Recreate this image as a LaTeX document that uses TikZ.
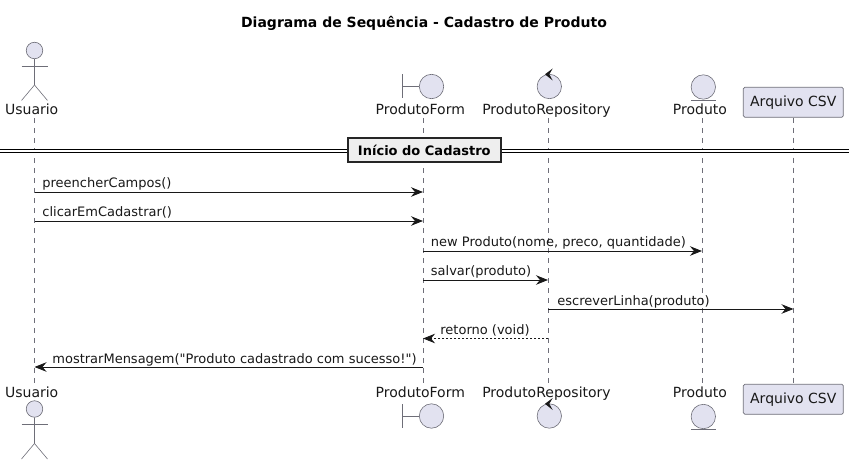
\documentclass[tikz,border=0pt]{standalone}
\usepackage{xcolor}
\usepackage{fontspec}
\setmainfont{DejaVu Sans}
\newfontfamily\msgfont{DejaVu Sans}
\usetikzlibrary{arrows.meta}
\definecolor{partfill}{HTML}{E2E2F0}
\definecolor{partline}{HTML}{6E6E78}
\definecolor{msgline}{HTML}{181818}
\definecolor{divfill}{HTML}{EEEEEE}

\begin{document}
\begin{tikzpicture}[
  x=1pt, y=-1pt,
  partlabel/.style={inner sep=0pt, text height=11pt, text depth=3pt, font=\fontsize{14}{16}\selectfont, text=msgline},
  figure/.style={draw=partline, line width=0.6pt, fill=partfill, circle, inner sep=0pt},
  figline/.style={draw=partline, line width=0.6pt},
  partbox/.style={draw=partline, line width=0.7pt, fill=partfill, rounded corners=1.5pt, minimum width=100pt, minimum height=30pt, inner sep=0pt, font=\fontsize{14}{16}\selectfont, text=msgline},
  lifeline/.style={draw=partline, line width=0.6pt, dash pattern=on 5pt off 5pt},
  msg/.style={draw=msgline, line width=0.8pt, -{Stealth[length=12pt, width=9.5pt, inset=4pt]}},
  reply/.style={msg, dash pattern=on 2pt off 2pt},
  msglabel/.style={anchor=base west, inner sep=0pt, font=\msgfont\fontsize{13}{15}\selectfont, text=msgline, yshift=4pt},
]
\useasboundingbox (0,0) rectangle (854,465);

% lanes and message rows
\foreach \lane/\x in {usuario/34.5, form/423, repo/548, produto/702, csv/793.5}
  \foreach \row/\y in {a/192, b/221, c/251, d/280, e/309, f/338.5, g/367}
    \coordinate (\lane\row) at (\x,\y);

\node[font=\fontsize{14}{16}\selectfont\bfseries, inner sep=0pt] (title) at (424,23) {Diagrama de Sequência - Cadastro de Produto};

% participants, top and bottom
\foreach \s/\ylab/\yact/\yfig in {Top/111/0/0, Bot/393.7/358.5/329.5} {
  \node[partlabel] (usuarioLabel\s) at (31.7,\ylab) {Usuario};
  \node[figure, minimum size=16.5pt] (usuarioHead\s) at (34.5,50.5+\yact) {};
  \draw[figline] (usuarioHead\s.south) -- (34.5,85+\yact) -- (21.5,100.5+\yact);
  \draw[figline] (34.5,85+\yact) -- (47.5,100.5+\yact);
  \draw[figline] (21.5,66+\yact) -- (47.5,66+\yact);

  \node[partlabel] (formLabel\s) at (420.3,\ylab) {ProdutoForm};
  \node[figure, minimum size=24.4pt] (formFig\s) at (431.5,86.5+\yfig) {};
  \draw[figline] (402.3,74.5+\yfig) -- (402.3,98.5+\yfig);
  \draw[figline] (402.3,86.5+\yfig) -- (formFig\s.west);

  \node[partlabel] (repoLabel\s) at (546.5,\ylab) {ProdutoRepository};
  \node[figure, minimum size=24.4pt] (repoFig\s) at (549.3,86.5+\yfig) {};
  \fill[msgline] (545,74.3+\yfig) -- (552.7,68.5+\yfig) -- (549.3,74.3+\yfig) -- (552.7,80.5+\yfig) -- cycle;

  \node[partlabel] (produtoLabel\s) at (700,\ylab) {Produto};
  \node[figure, minimum size=24.4pt] (produtoFig\s) at (703.3,87+\yfig) {};
  \draw[figline] (691,100+\yfig) -- (716,100+\yfig);
}
\node[partbox] (csvTop) at (793.3,102.3) {Arquivo CSV};
\node[partbox] (csvBot) at (793.3,399.3) {Arquivo CSV};

% lifelines
\draw[lifeline] (usuarioa |- usuarioLabelTop.south) -- (usuarioa |- usuarioLabelBot.north);
\draw[lifeline] (forma |- formLabelTop.south) -- (forma |- formLabelBot.north);
\draw[lifeline] (repoa |- repoLabelTop.south) -- (repoa |- repoLabelBot.north);
\draw[lifeline] (produtoa |- produtoLabelTop.south) -- (produtoa |- produtoLabelBot.north);
\draw[lifeline] (csvTop) -- (csvBot);

% divider
\coordinate (divLeft) at (0,151);
\coordinate (divRight) at (849,151);
\draw[black, line width=3.4pt] (divLeft) -- (divRight);
\draw[white, line width=1.4pt] (divLeft) -- (divRight);
\node[draw=black!85, line width=1.6pt, fill=divfill, minimum width=153pt, minimum height=24pt, inner sep=0pt, font=\fontsize{13}{15}\selectfont\bfseries] (divider) at (424.3,150) {Início do Cadastro};

% messages
\draw[msg] (usuarioa) -- (forma) node[msglabel, pos=0, xshift=7.5pt] {preencherCampos()};
\draw[msg] (usuariob) -- (formb) node[msglabel, pos=0, xshift=7.5pt] {clicarEmCadastrar()};
\draw[msg] (formc) -- (produtoc) node[msglabel, pos=0, xshift=7.5pt] {new Produto(nome, preco, quantidade)};
\draw[msg] (formd) -- (repod) node[msglabel, pos=0, xshift=7.5pt] {salvar(produto)};
\draw[msg] (repoe) -- (csve) node[msglabel, pos=0, xshift=9pt] {escreverLinha(produto)};
\draw[reply] (repof) -- (formf) node[msglabel, pos=1, xshift=17pt] {retorno (void)};
\draw[msg] (formg) -- (usuariog) node[msglabel, pos=1, xshift=17.5pt] {mostrarMensagem("Produto cadastrado com sucesso!")};
\end{tikzpicture}
\end{document}
